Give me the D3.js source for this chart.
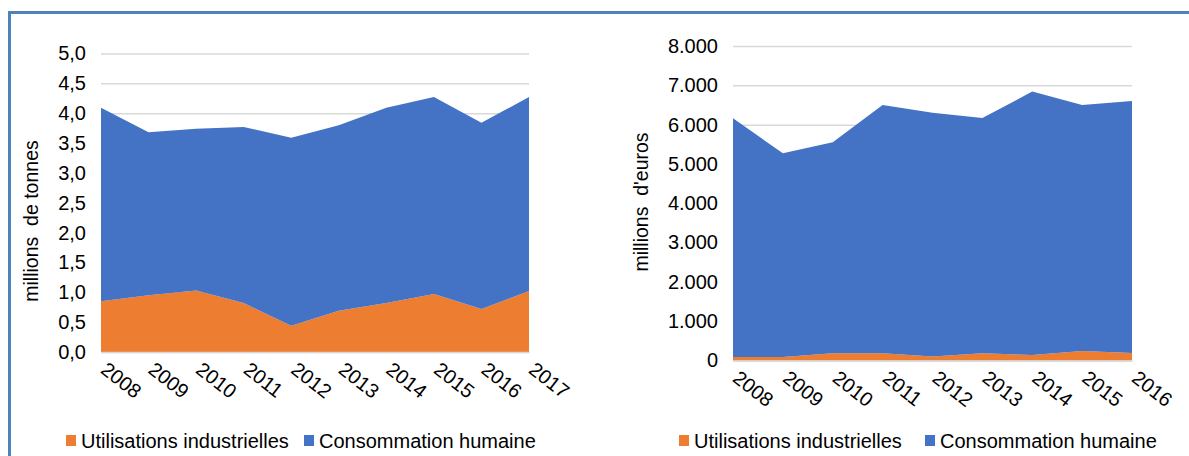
<html>
  <head>
    <meta charset="utf-8">
    <title>Utilisations industrielles / Consommation humaine</title>
    <script src="https://d3js.org/d3.v7.min.js"></script>
    <style>
      body { margin: 0; background: #fff; }
      text { font-family: "Liberation Sans", Arial, sans-serif; fill: #000; }
    </style>
  </head>
  <body>
    <svg width="1189" height="456" id="charts"></svg>
  </body>

  <script type="text/javascript">
    // left chart : volumes (millions de tonnes)
    var yearsTonnes = [2008, 2009, 2010, 2011, 2012, 2013, 2014, 2015, 2016, 2017];
    var industrialTonnes = [0.85, 0.95, 1.03, 0.82, 0.44, 0.69, 0.82, 0.97, 0.72, 1.02];
    var humanTonnes = [3.24, 2.73, 2.71, 2.95, 3.15, 3.11, 3.27, 3.30, 3.12, 3.25];
    var tonnesTicks = [0, 0.5, 1, 1.5, 2, 2.5, 3, 3.5, 4, 4.5, 5];

    // right chart : valeurs (millions d'euros)
    var yearsEuros = [2008, 2009, 2010, 2011, 2012, 2013, 2014, 2015, 2016];
    var industrialEuros = [90, 90, 185, 185, 100, 185, 140, 240, 190];
    var humanEuros = [6070, 5180, 5365, 6315, 6200, 5985, 6700, 6260, 6410];
    var eurosTicks = [0, 1000, 2000, 3000, 4000, 5000, 6000, 7000, 8000];

    var seriesNames = ["Utilisations industrielles", "Consommation humaine"];
    var colors = ["#ED7D31", "#4472C4"];

    var fr = d3.formatLocale({decimal: ",", thousands: ".", grouping: [3], currency: ["", " €"]});

    var svg = d3.select("#charts");

    // frame
    svg.append("path")
      .attr("d", "M9.5,456 L9.5,12.5 L1189,12.5")
      .attr("fill", "none")
      .attr("stroke", "#4F81BD")
      .attr("stroke-width", 3);

    function draw(cfg) {
      var g = svg.append("g");

      var rows = cfg.years.map(function(y, i) {
        return {year: y, ind: cfg.industrial[i], hum: cfg.human[i]};
      });
      var stacked = d3.stack().keys(["ind", "hum"])(rows);

      var x = d3.scalePoint()
        .domain(cfg.years)
        .range([cfg.left, cfg.right]);

      var y = d3.scaleLinear()
        .domain([0, d3.max(cfg.ticks)])
        .range([cfg.bottom, cfg.top]);

      // gridlines + y labels
      var yAxis = d3.axisLeft(y)
        .tickValues(cfg.ticks)
        .tickSize(-(cfg.right - cfg.left))
        .tickPadding(15)
        .tickFormat(cfg.format);

      var ya = g.append("g")
        .attr("transform", "translate(" + cfg.left + ",0)")
        .call(yAxis);
      ya.select(".domain").remove();
      ya.selectAll("line").attr("stroke", "#D9D9D9").attr("stroke-width", 1.5);
      ya.selectAll("text").attr("font-size", 20).attr("fill", "#000");

      var area = d3.area()
        .x(function(d) { return x(d.data.year); })
        .y0(function(d) { return y(d[0]); })
        .y1(function(d) { return y(d[1]); });

      g.selectAll("path.layer")
        .data(stacked)
        .enter().append("path")
        .attr("class", "layer")
        .attr("d", area)
        .attr("fill", function(d, i) { return colors[i]; });

      // x axis
      var xAxis = d3.axisBottom(x).tickSize(0).tickPadding(0);
      var xa = g.append("g")
        .attr("transform", "translate(0," + cfg.bottom + ")")
        .call(xAxis);
      xa.select(".domain").attr("stroke", "#D9D9D9").attr("stroke-width", 1.5);
      xa.selectAll("text")
        .attr("font-size", 20)
        .attr("fill", "#000")
        .attr("text-anchor", "start")
        .attr("dy", 0)
        .attr("transform", "translate(-2,20) rotate(38)");

      // y title
      g.append("text")
        .attr("transform", "translate(" + cfg.titleX + "," + cfg.titleY + ") rotate(-90)")
        .attr("text-anchor", "middle")
        .attr("font-size", 19.5)
        .style("white-space", "pre")
        .text(cfg.title);

      // legend
      var lg = g.append("g").attr("transform", "translate(" + cfg.legendX + ",448)");
      var offsets = [0, cfg.legendGap];
      seriesNames.forEach(function(name, i) {
        lg.append("rect")
          .attr("x", offsets[i])
          .attr("y", -13)
          .attr("width", 10)
          .attr("height", 11)
          .attr("fill", colors[i]);
        lg.append("text")
          .attr("x", offsets[i] + 15)
          .attr("font-size", 20)
          .text(name);
      });
    }

    draw({
      years: yearsTonnes, industrial: industrialTonnes, human: humanTonnes,
      ticks: tonnesTicks, format: fr.format(",.1f"),
      left: 101, right: 529, top: 53.5, bottom: 352,
      title: "millions  de tonnes", titleX: 38, titleY: 221,
      legendX: 66, legendGap: 238
    });

    draw({
      years: yearsEuros, industrial: industrialEuros, human: humanEuros,
      ticks: eurosTicks, format: fr.format(",.0f"),
      left: 733, right: 1132, top: 46, bottom: 360.5,
      title: "millions  d'euros", titleX: 648, titleY: 202,
      legendX: 679, legendGap: 246
    });
  </script>
</html>
